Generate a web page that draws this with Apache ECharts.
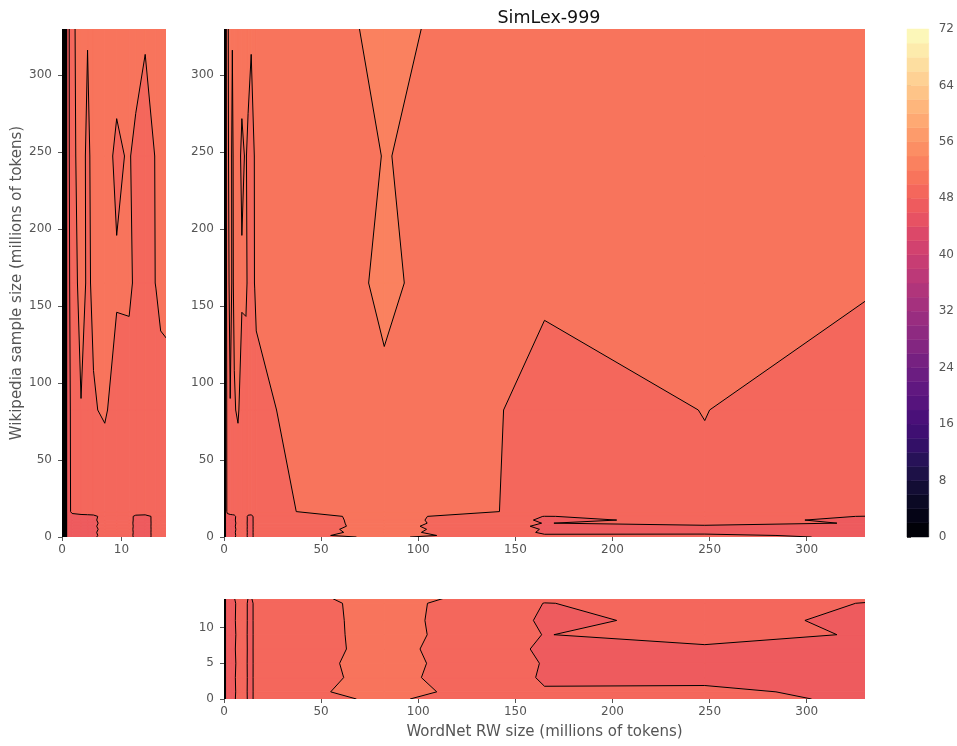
<!DOCTYPE html>
<html><head><meta charset="utf-8">
<script src="https://cdn.jsdelivr.net/npm/echarts@6/dist/echarts.min.js"></script>
<style>html,body{margin:0;padding:0;background:#fff}#c{width:957px;height:746px}</style>
</head><body><div id="c"></div>
<script>
// ---- data (grid of SimLex-999 scores) ----
const wordnetSizes = [0, 0.8, 1.7, 3.2, 4.3, 5.3, 7.2, 9.2, 11.3, 12.4, 14.0, 15.8, 16.6, 82.5, 165, 247.5, 330];
const wikiSizes = [0, 1, 3, 5, 7, 9, 11, 13.4, 16.5, 82.5, 165, 247.5, 330];
const scoreWiki0   = [2, 46.5, 47.25, 47.5, 47.65, 47.8, 48.5, 48.6, 48.4, 47.75, 47.65, 48.3, 49.1, 50.25, 48.7, 48.3, 47.85];
const scoreWiki1   = [2, 46.5, 47.25, 47.5, 47.6, 47.7, 48.5, 48.65, 48.4, 47.7, 47.7, 48.25, 48.715, 50.925, 48.1, 48.2, 47.75];
const scoreWiki3   = [2, 46.5, 47.25, 47.5, 47.65, 47.8, 48.5, 48.6, 48.4, 47.75, 47.65, 48.3, 48.6, 50.65, 47.845, 47.75, 47.75];
const scoreWiki5   = [2, 46.5, 47.25, 47.5, 47.6, 47.65, 48.5, 48.65, 48.4, 47.7, 47.7, 48.25, 48.6, 50.75, 47.91, 47.7, 47.8];
const scoreWiki7   = [2, 46.5, 47.25, 47.5, 47.65, 47.8, 48.5, 48.6, 48.4, 47.75, 47.65, 48.3, 48.45, 50.65, 47.74, 47.65, 47.8];
const scoreWiki9   = [2, 46.5, 47.25, 47.5, 47.6, 47.65, 48.5, 48.65, 48.4, 47.7, 47.7, 48.25, 48.3, 50.75, 47.95, 48.8, 47.83];
const scoreWiki11  = [2, 46.5, 47.25, 47.5, 47.65, 47.8, 48.5, 48.65, 48.4, 47.75, 47.65, 48.3, 48.35, 50.75, 47.795, 48.25, 47.85];
const scoreWiki13  = [2, 46.5, 47.25, 47.5, 47.6, 47.7, 48.5, 48.6, 48.4, 47.75, 47.65, 48.3, 48.45, 50.75, 47.97, 48.4, 47.975];
const scoreWiki16  = [2, 46.75, 48.5, 48.75, 48.75, 48.75, 49, 49, 49, 48.75, 48.75, 48.75, 49.5, 51.1, 49.57, 49.785, 48.75];
const scoreWiki82  = [2, 46.5, 48.75, 49.95, 49.8, 49.91, 50.15, 49.5, 49.3, 49.25, 49.25, 49.4, 49.67, 51.75, 49.4, 50.025, 49.2];
const scoreWiki165 = [2, 46.5, 49.25, 50.5, 49.8, 50.2, 50.5, 50.15, 50.25, 49.75, 49.65, 50.025, 50.2, 52.25, 50.25, 50.5, 50.135];
const scoreWiki247 = [2, 46.5, 49.65, 50.5, 49.75, 50.4, 50.5, 49.75, 50.15, 49.5, 49.8, 50.025, 50.5, 52.035, 51.3, 50.75, 50.5];
const scoreWiki330 = [2, 46.5, 49.75, 50.5, 50.05, 50.5, 50.75, 50.6, 50.75, 51, 50.05, 50.75, 50.75, 52.3, 51, 50.75, 50.5];
const scoreGrid = [scoreWiki0, scoreWiki1, scoreWiki3, scoreWiki5, scoreWiki7, scoreWiki9, scoreWiki11, scoreWiki13,
                   scoreWiki16, scoreWiki82, scoreWiki165, scoreWiki247, scoreWiki330];
const levels = [0,2,4,6,8,10,12,14,16,18,20,22,24,26,28,30,32,34,36,38,40,42,44,46,48,50,52,54,56,58,60,62,64,66,68,70,72];

// tick labels
const mainTicks = [0, 50, 100, 150, 200, 250, 300];
const sideXTicks = [0, 10];
const bottomYTicks = [0, 5, 10];
const cbarTicks = [0, 8, 16, 24, 32, 40, 48, 56, 64, 72];

// ---- magma colormap ----
const magmaHex = ("000004 010005 010106 010108 020109 02020b 02020d 03030f 030312 040414 050416 060518 06051a 07061c 08071e 090720 0a0822 0b0924 0c0926 0d0a29 0e0b2b 100b2d 110c2f 120d31 130d34 140e36 " +
"150e38 160f3b 180f3d 19103f 1a1042 1c1044 1d1147 1e1149 20114b 21114e 221150 241253 251255 271258 29115a 2a115c 2c115f 2d1161 2f1163 311165 331067 341069 36106b 38106c 390f6e 3b0f70 " +
"3d0f71 3f0f72 400f74 420f75 440f76 451077 471078 491078 4a1079 4c117a 4e117b 4f127b 51127c 52137c 54137d 56147d 57157e 59157e 5a167e 5c167f 5d177f 5f187f 601880 621980 641a80 " +
"651a80 671b80 681c81 6a1c81 6b1d81 6d1d81 6e1e81 701f81 721f81 732081 752181 762181 782281 792282 7b2382 7c2382 7e2482 802582 812581 832681 842681 862781 882781 892881 8b2981 8c2981 " +
"8e2a81 902a81 912b81 932b80 942c80 962c80 982d80 992d80 9b2e7f 9c2e7f 9e2f7f a02f7f a1307e a3307e a5317e a6317d a8327d aa337d ab337c ad347c ae347b b0357b b2357b b3367a b5367a b73779 " +
"b83779 ba3878 bc3978 bd3977 bf3a77 c03a76 c23b75 c43c75 c53c74 c73d73 c83e73 ca3e72 cc3f71 cd4071 cf4070 d0416f d2426f d3436e d5446d d6456c d8456c d9466b db476a dc4869 de4968 " +
"df4a68 e04c67 e24d66 e34e65 e44f64 e55064 e75263 e85362 e95462 ea5661 eb5760 ec5860 ed5a5f ee5b5e ef5d5e f05f5e f1605d f2625d f2645c f3655c f4675c f4695c f56b5c f66c5c f66e5c f7705c " +
"f7725c f8745c f8765c f9785d f9795d f97b5d fa7d5e fa7f5e fa815f fb835f fb8560 fb8761 fc8961 fc8a62 fc8c63 fc8e64 fc9065 fd9266 fd9467 fd9668 fd9869 fd9a6a fd9b6b fe9d6c fe9f6d " +
"fea16e fea36f fea571 fea772 fea973 feaa74 feac76 feae77 feb078 feb27a feb47b feb67c feb77e feb97f febb81 febd82 febf84 fec185 fec287 fec488 fec68a fec88c feca8d fecc8f fecd90 fecf92 " +
"fed194 fed395 fed597 fed799 fed89a fdda9c fddc9e fddea0 fde0a1 fde2a3 fde3a5 fde5a7 fde7a9 fde9aa fdebac fcecae fceeb0 fcf0b2 fcf2b4 fcf4b6 fcf6b8 fcf7b9 fcf9bb fcfbbd fcfdbf").split(' ');
function magma(t){ const n = magmaHex.length; return '#' + magmaHex[Math.max(0, Math.min(n - 1, Math.floor(t * n)))]; }
const lvMin = levels[0], lvMax = levels[levels.length - 1];
const bandColors = levels.slice(0, -1).map((lo, k) => magma(((lo + levels[k + 1]) / 2 - lvMin) / (lvMax - lvMin)));

// ---- contouring helpers ----
function quad(i, j){
  return [[wordnetSizes[i], wikiSizes[j], scoreGrid[j][i]],
          [wordnetSizes[i+1], wikiSizes[j], scoreGrid[j][i+1]],
          [wordnetSizes[i+1], wikiSizes[j+1], scoreGrid[j+1][i+1]],
          [wordnetSizes[i], wikiSizes[j+1], scoreGrid[j+1][i]]];
}
function clipPoly(poly, lv, above){
  const out = [];
  for (let m = 0; m < poly.length; m++){
    const a = poly[m], b = poly[(m + 1) % poly.length];
    const ina = above ? a[2] >= lv : a[2] <= lv;
    const inb = above ? b[2] >= lv : b[2] <= lv;
    if (ina) out.push(a);
    if (ina !== inb){
      const t = (lv - a[2]) / (b[2] - a[2]);
      out.push([a[0] + t * (b[0] - a[0]), a[1] + t * (b[1] - a[1]), lv]);
    }
  }
  return out;
}
function renderFill(params, api){
  const i = api.value(0), j = api.value(1);
  const q = quad(i, j);
  const zs = q.map(p => p[2]);
  const zmin = Math.min(...zs), zmax = Math.max(...zs);
  const children = [];
  for (let k = 0; k < levels.length - 1; k++){
    const lo = levels[k], hi = levels[k + 1];
    if (hi < zmin || lo > zmax) continue;
    let p = clipPoly(q, lo, true); if (p.length < 3) continue;
    p = clipPoly(p, hi, false); if (p.length < 3) continue;
    const pts = p.map(v => api.coord([v[0], v[1]]));
    children.push({type: 'polygon', shape: {points: pts}, silent: true,
      style: {fill: bandColors[k], stroke: bandColors[k], lineWidth: 1}});
  }
  return {type: 'group', children};
}
function renderLines(params, api){
  const i = api.value(0), j = api.value(1);
  const q = quad(i, j);
  const children = [];
  for (const lv of levels){
    const cr = [];
    for (let e = 0; e < 4; e++){
      const a = q[e], b = q[(e + 1) % 4];
      if ((a[2] >= lv) !== (b[2] >= lv)){
        const t = (lv - a[2]) / (b[2] - a[2]);
        cr.push({e, p: [a[0] + t * (b[0] - a[0]), a[1] + t * (b[1] - a[1])]});
      }
    }
    const segs = [];
    if (cr.length === 2) segs.push([cr[0].p, cr[1].p]);
    else if (cr.length === 4){
      const center = (q[0][2] + q[1][2] + q[2][2] + q[3][2]) / 4;
      const cAbove = center >= lv;
      for (let c = 0; c < 4; c++){
        if ((q[c][2] >= lv) !== cAbove){
          const e1 = (c + 3) % 4, e2 = c;
          segs.push([cr.find(o => o.e === e1).p, cr.find(o => o.e === e2).p]);
        }
      }
    }
    for (const s of segs){
      const p1 = api.coord(s[0]), p2 = api.coord(s[1]);
      children.push({type: 'line', silent: true, shape: {x1: p1[0], y1: p1[1], x2: p2[0], y2: p2[1]},
        style: {stroke: '#000', lineWidth: 1}});
    }
  }
  return {type: 'group', children};
}
const cells = [];
for (let j = 0; j < wikiSizes.length - 1; j++)
  for (let i = 0; i < wordnetSizes.length - 1; i++) cells.push([i, j]);

// ---- axes ----
const FONT = 'DejaVu Sans';
function axis(extra, ticks, margin){
  return Object.assign({
    type: 'value',
    axisLine: {show: false},
    axisTick: {show: true, length: 4, customValues: ticks, lineStyle: {color: '#555', width: 1}},
    axisLabel: {color: '#555', fontSize: 12, fontFamily: FONT, margin: margin, customValues: ticks},
    splitLine: {show: false}
  }, extra);
}
const nameStyle = {color: '#555', fontSize: 15, fontFamily: FONT};

const grids = [
  {left: 224, top: 29, width: 641, height: 508},
  {left: 62, top: 29, width: 104, height: 508},
  {left: 224, top: 599, width: 641, height: 100},
  {left: 907, top: 29, width: 22, height: 508}
];
const xAxes = [
  axis({gridIndex: 0, min: 0, max: 330}, mainTicks, 7),
  axis({gridIndex: 1, min: 0, max: 17.5}, sideXTicks, 7),
  axis({gridIndex: 2, min: 0, max: 330, name: 'WordNet RW size (millions of tokens)', nameLocation: 'middle', nameGap: 26, nameTextStyle: nameStyle}, mainTicks, 7),
  {type: 'value', gridIndex: 3, min: 0, max: 1, show: false}
];
const yAxes = [
  axis({gridIndex: 0, min: 0, max: 330}, mainTicks, 10),
  axis({gridIndex: 1, min: 0, max: 330, name: 'Wikipedia sample size (millions of tokens)', nameLocation: 'middle', nameGap: 37, nameTextStyle: nameStyle}, mainTicks, 10),
  axis({gridIndex: 2, min: 0, max: 14}, bottomYTicks, 10),
  axis({gridIndex: 3, min: 0, max: 72, position: 'right'}, cbarTicks, 10)
];

const series = [];
for (let g = 0; g < 3; g++){
  series.push({type: 'custom', xAxisIndex: g, yAxisIndex: g, clip: true, silent: true, animation: false,
    renderItem: renderFill, data: cells, z: 1});
  series.push({type: 'custom', xAxisIndex: g, yAxisIndex: g, clip: true, silent: true, animation: false,
    renderItem: renderLines, data: cells, z: 2});
}
series.push({type: 'custom', xAxisIndex: 3, yAxisIndex: 3, silent: true, animation: false,
  data: bandColors.map((c, k) => [k, 0]),
  renderItem: function(params, api){
    const k = api.value(0);
    const p0 = api.coord([0, levels[k]]), p1 = api.coord([1, levels[k + 1]]);
    return {type: 'rect', shape: {x: p0[0], y: p1[1], width: p1[0] - p0[0], height: p0[1] - p1[1]},
      style: {fill: bandColors[k], stroke: bandColors[k], lineWidth: 0.5}};
  }});

const chart = echarts.init(document.getElementById('c'), null, {renderer: 'canvas'});
chart.setOption({
  backgroundColor: '#fff',
  animation: false,
  title: {text: 'SimLex-999', left: 544, top: 4, textAlign: 'center',
    textStyle: {fontSize: 17.5, fontWeight: 'normal', color: '#111', fontFamily: FONT}},
  grid: grids, xAxis: xAxes, yAxis: yAxes, series
});
</script></body></html>
